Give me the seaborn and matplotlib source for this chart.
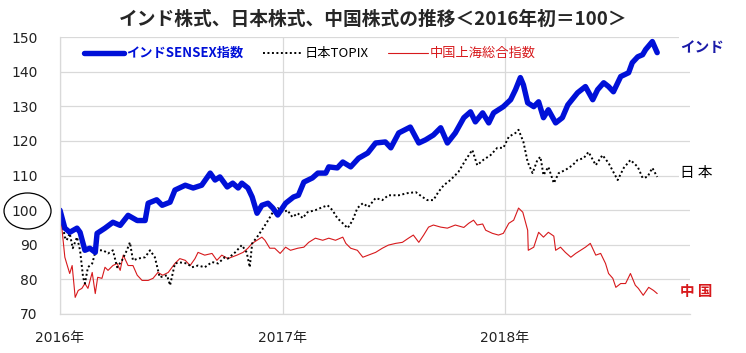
import seaborn as sns
import matplotlib.pyplot as plt
import pandas as pd
from matplotlib.patches import Ellipse

# India SENSEX (2016 start = 100)
india_dates = ['2016-01-01', '2016-01-09', '2016-01-17', '2016-01-29', '2016-02-03', '2016-02-11',
               '2016-02-19', '2016-02-28', '2016-03-02', '2016-03-15', '2016-03-28', '2016-04-09',
               '2016-04-22', '2016-05-07', '2016-05-20', '2016-05-25', '2016-06-08', '2016-06-17',
               '2016-06-30', '2016-07-08', '2016-07-25', '2016-08-07', '2016-08-21', '2016-09-04',
               '2016-09-12', '2016-09-20', '2016-10-02', '2016-10-11', '2016-10-20', '2016-10-26',
               '2016-11-05', '2016-11-12', '2016-11-20', '2016-11-28', '2016-12-08', '2016-12-16',
               '2016-12-24', '2017-01-06', '2017-01-19', '2017-01-27', '2017-02-05', '2017-02-19',
               '2017-02-28', '2017-03-13', '2017-03-18', '2017-04-01', '2017-04-10', '2017-04-23',
               '2017-05-06', '2017-05-21', '2017-06-03', '2017-06-19', '2017-06-28', '2017-07-11',
               '2017-07-30', '2017-08-13', '2017-08-24', '2017-09-06', '2017-09-18', '2017-09-29',
               '2017-10-12', '2017-10-26', '2017-11-06', '2017-11-14', '2017-11-26', '2017-12-06',
               '2017-12-14', '2017-12-30', '2018-01-11', '2018-01-19', '2018-01-27', '2018-02-01',
               '2018-02-08', '2018-02-18', '2018-02-26', '2018-03-06', '2018-03-14', '2018-03-26',
               '2018-04-06', '2018-04-15', '2018-05-01', '2018-05-14', '2018-05-26', '2018-06-03',
               '2018-06-13', '2018-06-21', '2018-06-29', '2018-07-11', '2018-07-24', '2018-07-30',
               '2018-08-08', '2018-08-16', '2018-08-21', '2018-09-01', '2018-09-09']
india_vals = [100, 94.8, 93.6, 94.8, 93.6, 88.4,
              89.0, 87.8, 93.3, 94.8, 96.5, 95.6,
              98.5, 97.0, 97.0, 102.0, 103.0, 101.4,
              102.3, 105.8, 107.2, 106.4, 107.2, 110.7,
              108.7, 109.6, 106.7, 107.8, 106.4, 107.8,
              106.4, 103.8, 99.1, 101.4, 102.0, 100.6,
              98.6, 102.0, 103.8, 104.3, 108.1, 109.3,
              110.7, 110.7, 112.5, 112.2, 113.9, 112.5,
              115.0, 116.5, 119.4, 119.7, 118.0, 122.3,
              124.0, 119.4, 120.3, 121.7, 123.8, 119.4,
              122.3, 126.7, 128.4, 125.5, 128.1, 125.2,
              128.1, 129.9, 131.9, 134.8, 138.3, 136.2,
              131.0, 129.9, 131.3, 126.7, 129.0, 125.2,
              126.7, 130.4, 133.9, 135.7, 131.9, 134.8,
              136.8, 135.7, 134.2, 138.6, 139.7, 142.6,
              144.3, 144.9, 146.4, 148.7, 145.5]

# Japan TOPIX
japan_dates = ['2016-01-01', '2016-01-09', '2016-01-12', '2016-01-17', '2016-01-22', '2016-01-29',
               '2016-02-03', '2016-02-08', '2016-02-11', '2016-02-16', '2016-02-23', '2016-02-28',
               '2016-03-03', '2016-03-12', '2016-03-20', '2016-03-28', '2016-04-04', '2016-04-12',
               '2016-04-20', '2016-04-25', '2016-04-30', '2016-05-08', '2016-05-20', '2016-05-28',
               '2016-06-05', '2016-06-13', '2016-06-25', '2016-06-30', '2016-07-08', '2016-07-16',
               '2016-07-28', '2016-08-05', '2016-08-15', '2016-08-26', '2016-09-07', '2016-09-17',
               '2016-09-28', '2016-10-03', '2016-10-15', '2016-10-26', '2016-11-03', '2016-11-08',
               '2016-11-12', '2016-11-20', '2016-11-30', '2016-12-08', '2016-12-16', '2016-12-24',
               '2017-01-03', '2017-01-09', '2017-01-17', '2017-01-26', '2017-02-03', '2017-02-11',
               '2017-02-24', '2017-03-04', '2017-03-16', '2017-03-24', '2017-04-01', '2017-04-10',
               '2017-04-18', '2017-04-26', '2017-05-04', '2017-05-13', '2017-05-22', '2017-06-03',
               '2017-06-14', '2017-06-24', '2017-07-11', '2017-07-25', '2017-08-08', '2017-08-19',
               '2017-08-27', '2017-09-06', '2017-09-14', '2017-09-23', '2017-10-04', '2017-10-17',
               '2017-10-29', '2017-11-09', '2017-11-17', '2017-11-27', '2017-12-09', '2017-12-20',
               '2017-12-30', '2018-01-08', '2018-01-19', '2018-01-24', '2018-02-01', '2018-02-08',
               '2018-02-16', '2018-02-24', '2018-03-01', '2018-03-06', '2018-03-14', '2018-03-23',
               '2018-03-31', '2018-04-11', '2018-04-23', '2018-05-01', '2018-05-11', '2018-05-19',
               '2018-05-31', '2018-06-11', '2018-06-21', '2018-07-06', '2018-07-16', '2018-07-27',
               '2018-08-08', '2018-08-16', '2018-08-24', '2018-09-01', '2018-09-09']
japan_vals = [100, 92.2, 91.3, 93.3, 89.0, 92.2,
              88.4, 80.6, 78.8, 83.5, 84.6, 87.8,
              88.4, 88.4, 87.5, 88.4, 83.5, 85.5,
              88.4, 90.7, 85.5, 86.0, 86.4, 88.4,
              86.4, 80.6, 81.2, 78.3, 84.6, 84.9,
              84.6, 83.5, 84.0, 83.5, 85.0, 84.6,
              86.4, 86.0, 87.8, 89.9, 87.8, 83.5,
              90.4, 92.2, 94.8, 97.0, 99.4, 100.6,
              99.4, 100.0, 98.0, 99.1, 97.7, 99.4,
              100.0, 100.6, 101.4, 100.0, 97.7, 96.2,
              94.8, 97.0, 100.6, 102.0, 100.9, 103.5,
              102.9, 104.3, 104.3, 104.9, 105.2, 103.8,
              102.9, 102.9, 105.2, 107.2, 108.7, 111.0,
              114.5, 117.4, 113.0, 114.5, 115.9, 118.0,
              118.0, 121.2, 122.3, 123.2, 119.7, 113.9,
              110.7, 114.5, 115.4, 110.1, 112.5, 107.8,
              110.7, 111.6, 113.0, 114.5, 115.0, 116.8,
              113.0, 115.9, 113.6, 108.7, 112.2, 114.5,
              112.5, 109.3, 109.6, 112.2, 109.6]

# China Shanghai Composite
china_dates = ['2016-01-01', '2016-01-04', '2016-01-09', '2016-01-12', '2016-01-17', '2016-01-21',
               '2016-01-26', '2016-01-31', '2016-02-06', '2016-02-11', '2016-02-16', '2016-02-23',
               '2016-02-28', '2016-03-03', '2016-03-10', '2016-03-15', '2016-03-20', '2016-03-28',
               '2016-04-04', '2016-04-09', '2016-04-14', '2016-04-22', '2016-04-30', '2016-05-07',
               '2016-05-15', '2016-05-25', '2016-06-02', '2016-06-10', '2016-06-18', '2016-06-27',
               '2016-07-08', '2016-07-16', '2016-07-25', '2016-08-02', '2016-08-10', '2016-08-15',
               '2016-08-26', '2016-09-07', '2016-09-15', '2016-09-23', '2016-10-03', '2016-10-18',
               '2016-10-28', '2016-11-05', '2016-11-12', '2016-11-20', '2016-11-28', '2016-12-03',
               '2016-12-11', '2016-12-19', '2016-12-28', '2017-01-06', '2017-01-14', '2017-01-26',
               '2017-02-05', '2017-02-13', '2017-02-24', '2017-03-08', '2017-03-18', '2017-03-29',
               '2017-04-10', '2017-04-15', '2017-04-23', '2017-05-04', '2017-05-13', '2017-05-22',
               '2017-06-03', '2017-06-14', '2017-06-24', '2017-07-06', '2017-07-17', '2017-07-27',
               '2017-08-04', '2017-08-13', '2017-08-21', '2017-08-29', '2017-09-06', '2017-09-18',
               '2017-09-29', '2017-10-12', '2017-10-26', '2017-11-03', '2017-11-11', '2017-11-17',
               '2017-11-26', '2017-12-01', '2017-12-12', '2017-12-22', '2017-12-30', '2018-01-08',
               '2018-01-16', '2018-01-24', '2018-01-31', '2018-02-08', '2018-02-09', '2018-02-18',
               '2018-02-26', '2018-03-06', '2018-03-14', '2018-03-23', '2018-03-26', '2018-04-03',
               '2018-04-11', '2018-04-20', '2018-04-28', '2018-05-06', '2018-05-14', '2018-05-22',
               '2018-05-31', '2018-06-08', '2018-06-16', '2018-06-21', '2018-06-28', '2018-07-03',
               '2018-07-11', '2018-07-19', '2018-07-27', '2018-08-04', '2018-08-09', '2018-08-17',
               '2018-08-26', '2018-09-03', '2018-09-09']
china_vals = [100, 95.0, 86.4, 84.6, 81.7, 84.0,
              74.8, 76.8, 77.4, 78.8, 77.4, 82.0,
              75.9, 80.6, 80.3, 83.5, 82.6, 84.0,
              84.6, 82.6, 87.0, 84.0, 84.0, 81.2,
              79.7, 79.7, 80.3, 82.0, 81.2, 82.0,
              84.6, 86.0, 85.5, 84.0, 86.0, 87.8,
              87.0, 87.5, 85.5, 87.0, 86.0, 87.0,
              87.8, 89.0, 90.4, 91.3, 92.2, 91.3,
              89.0, 89.0, 87.5, 89.3, 88.4, 89.0,
              89.3, 90.7, 91.9, 91.3, 91.9, 91.3,
              92.2, 90.4, 89.0, 88.4, 86.4, 87.0,
              87.8, 89.0, 89.9, 90.4, 90.7, 91.9,
              92.8, 90.7, 92.8, 95.1, 95.7, 95.1,
              94.8, 95.7, 95.0, 96.2, 97.1, 95.7,
              96.0, 94.2, 93.3, 92.8, 93.3, 96.2,
              97.1, 100.6, 99.4, 94.2, 88.4, 89.3,
              93.6, 92.2, 93.6, 92.5, 88.4, 89.3,
              87.8, 86.4, 87.5, 88.4, 89.3, 90.4,
              87.0, 87.5, 84.6, 81.7, 80.3, 77.7,
              78.8, 78.8, 81.7, 78.3, 77.4, 75.4,
              77.7, 76.8, 75.9]

year_ticks = ['2016-01-01', '2017-01-01', '2018-01-01']
year_labels = ['2016年', '2017年', '2018年']
y_ticks = [70, 80, 90, 100, 110, 120, 130, 140, 150]

sns.set_theme(style="white")
plt.rcParams['font.family'] = ['DejaVu Sans', 'Noto Sans CJK JP']
jp = ['Noto Sans CJK JP', 'DejaVu Sans']

india = pd.DataFrame({'date': pd.to_datetime(india_dates), 'val': india_vals})
japan = pd.DataFrame({'date': pd.to_datetime(japan_dates), 'val': japan_vals})
china = pd.DataFrame({'date': pd.to_datetime(china_dates), 'val': china_vals})

fig = plt.figure(figsize=(7.46, 3.53), dpi=100)
ax = fig.add_axes([0.0804, 0.1105, 0.8446, 0.7845])

sns.lineplot(data=china, x='date', y='val', ax=ax, color='#d7191c', lw=0.8,
             label='中国上海総合指数')
sns.lineplot(data=japan, x='date', y='val', ax=ax, color='black', lw=1.4,
             linestyle=(0, (1, 1.3)), label='日本TOPIX')
sns.lineplot(data=india, x='date', y='val', ax=ax, color='#0010d8', lw=3.9,
             label='インドSENSEX指数')

ax.set_ylim(70, 150)
ax.set_xlim(pd.Timestamp('2016-01-01'), pd.Timestamp('2018-11-02'))
ax.set_yticks(y_ticks)
ax.set_yticklabels([str(v) for v in y_ticks], fontsize=10, color='#222222')
ax.set_xticks(pd.to_datetime(year_ticks))
ax.set_xticklabels(year_labels, fontsize=10, color='#222222')
ax.tick_params(axis='y', length=0, pad=16)
ax.tick_params(axis='x', length=0, pad=12)
ax.grid(True, color='#d9d9d9', lw=0.9)
for axis in ['left', 'bottom']:
    ax.spines[axis].set_color('#d9d9d9')
    ax.spines[axis].set_linewidth(0.9)
ax.spines['top'].set_visible(False)
ax.spines['right'].set_visible(False)
ax.set(xlabel=None, ylabel=None)

# legend in reversed order: India, Japan, China
h, l = ax.get_legend_handles_labels()
leg = ax.legend(h[::-1], l[::-1], loc='upper left', bbox_to_anchor=(0.02, 1.01), ncol=3,
                frameon=False, handlelength=3.0, columnspacing=1.5, handletextpad=0.15,
                prop={'family': jp, 'size': 9.5}, labelcolor='linecolor')
leg.get_texts()[0].set_fontweight('bold')

fig.text(0.5, 0.945, 'インド株式、日本株式、中国株式の推移＜2016年初＝100＞', ha='center', va='center',
         fontsize=13.5, fontweight='bold', family=jp)

box = dict(facecolor='white', edgecolor='none', pad=1)
fig.text(0.912, 0.868, 'インド', color='#1a1aa8', fontsize=10.5, fontweight='bold', family=jp,
         va='center', bbox=box)
fig.text(0.912, 0.51, '日 本', color='black', fontsize=10.5, family=jp, va='center', bbox=box)
fig.text(0.912, 0.176, '中 国', color='#d7191c', fontsize=10.5, fontweight='bold', family=jp,
         va='center', bbox=box)

fig.add_artist(Ellipse((0.0369, 0.4023), 0.063, 0.102, transform=fig.transFigure,
                       facecolor='none', edgecolor='black', lw=0.9))

plt.savefig('out.png', dpi=100)
